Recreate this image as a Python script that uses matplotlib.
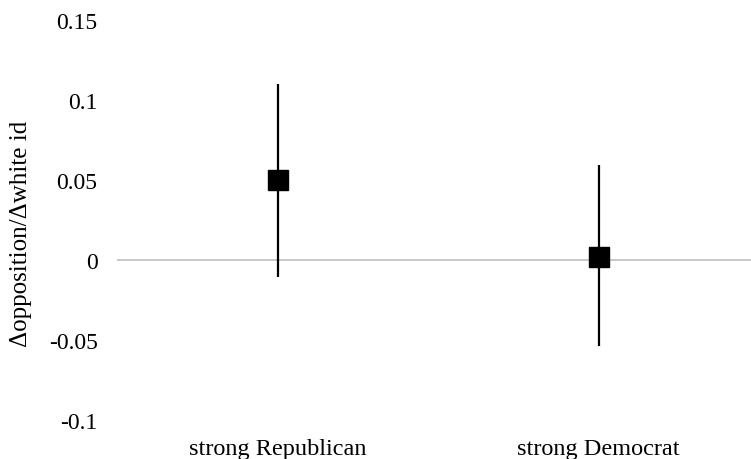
import matplotlib
matplotlib.use("Agg")
import matplotlib.pyplot as plt

categories = ["strong Republican", "strong Democrat"]
estimates = [0.05, 0.002]
lower = [-0.0105, -0.0536]
upper = [0.110, 0.0596]
yticks = [-0.1, -0.05, 0, 0.05, 0.1, 0.15]
ytick_labels = ["-0.1", "-0.05", "0", "0.05", "0.1", "0.15"]

plt.rcParams['font.family'] = ['Liberation Serif', 'DejaVu Serif']

W, H = 751, 460
fig = plt.figure(figsize=(W/100, H/100), dpi=100)
left, right, top, bottom = 117, 751, 21, 421
ax = fig.add_axes([left/W, (H-bottom)/H, (right-left)/W, (bottom-top)/H])

xpos = [0.5, 1.5]
full_width = 642.0
ax.set_xlim(0, 2 * (right-left)/full_width)
ax.set_ylim(-0.1, 0.15)

ax.axhline(0, color='#bfbfbf', lw=1.2, zorder=1)
yerr = [[e - l for e, l in zip(estimates, lower)], [u - e for e, u in zip(estimates, upper)]]
ax.errorbar(xpos, estimates, yerr=yerr, fmt='s', color='black', ecolor='black',
            elinewidth=1.6, capsize=0, markersize=14.5, zorder=3)

for s in ax.spines.values():
    s.set_visible(False)
ax.set_yticks(yticks)
ax.set_yticklabels(ytick_labels, fontsize=17)
ax.set_xticks(xpos)
ax.set_xticklabels(categories, fontsize=17.5)
ax.tick_params(axis='both', length=0)
ax.tick_params(axis='y', pad=14)
ax.tick_params(axis='x', pad=13)

fig.text(21/W, 1 - 234/H, "Δopposition/Δwhite id", rotation=90, ha='center', va='center', fontsize=18)

fig.savefig("out.png", dpi=100)
